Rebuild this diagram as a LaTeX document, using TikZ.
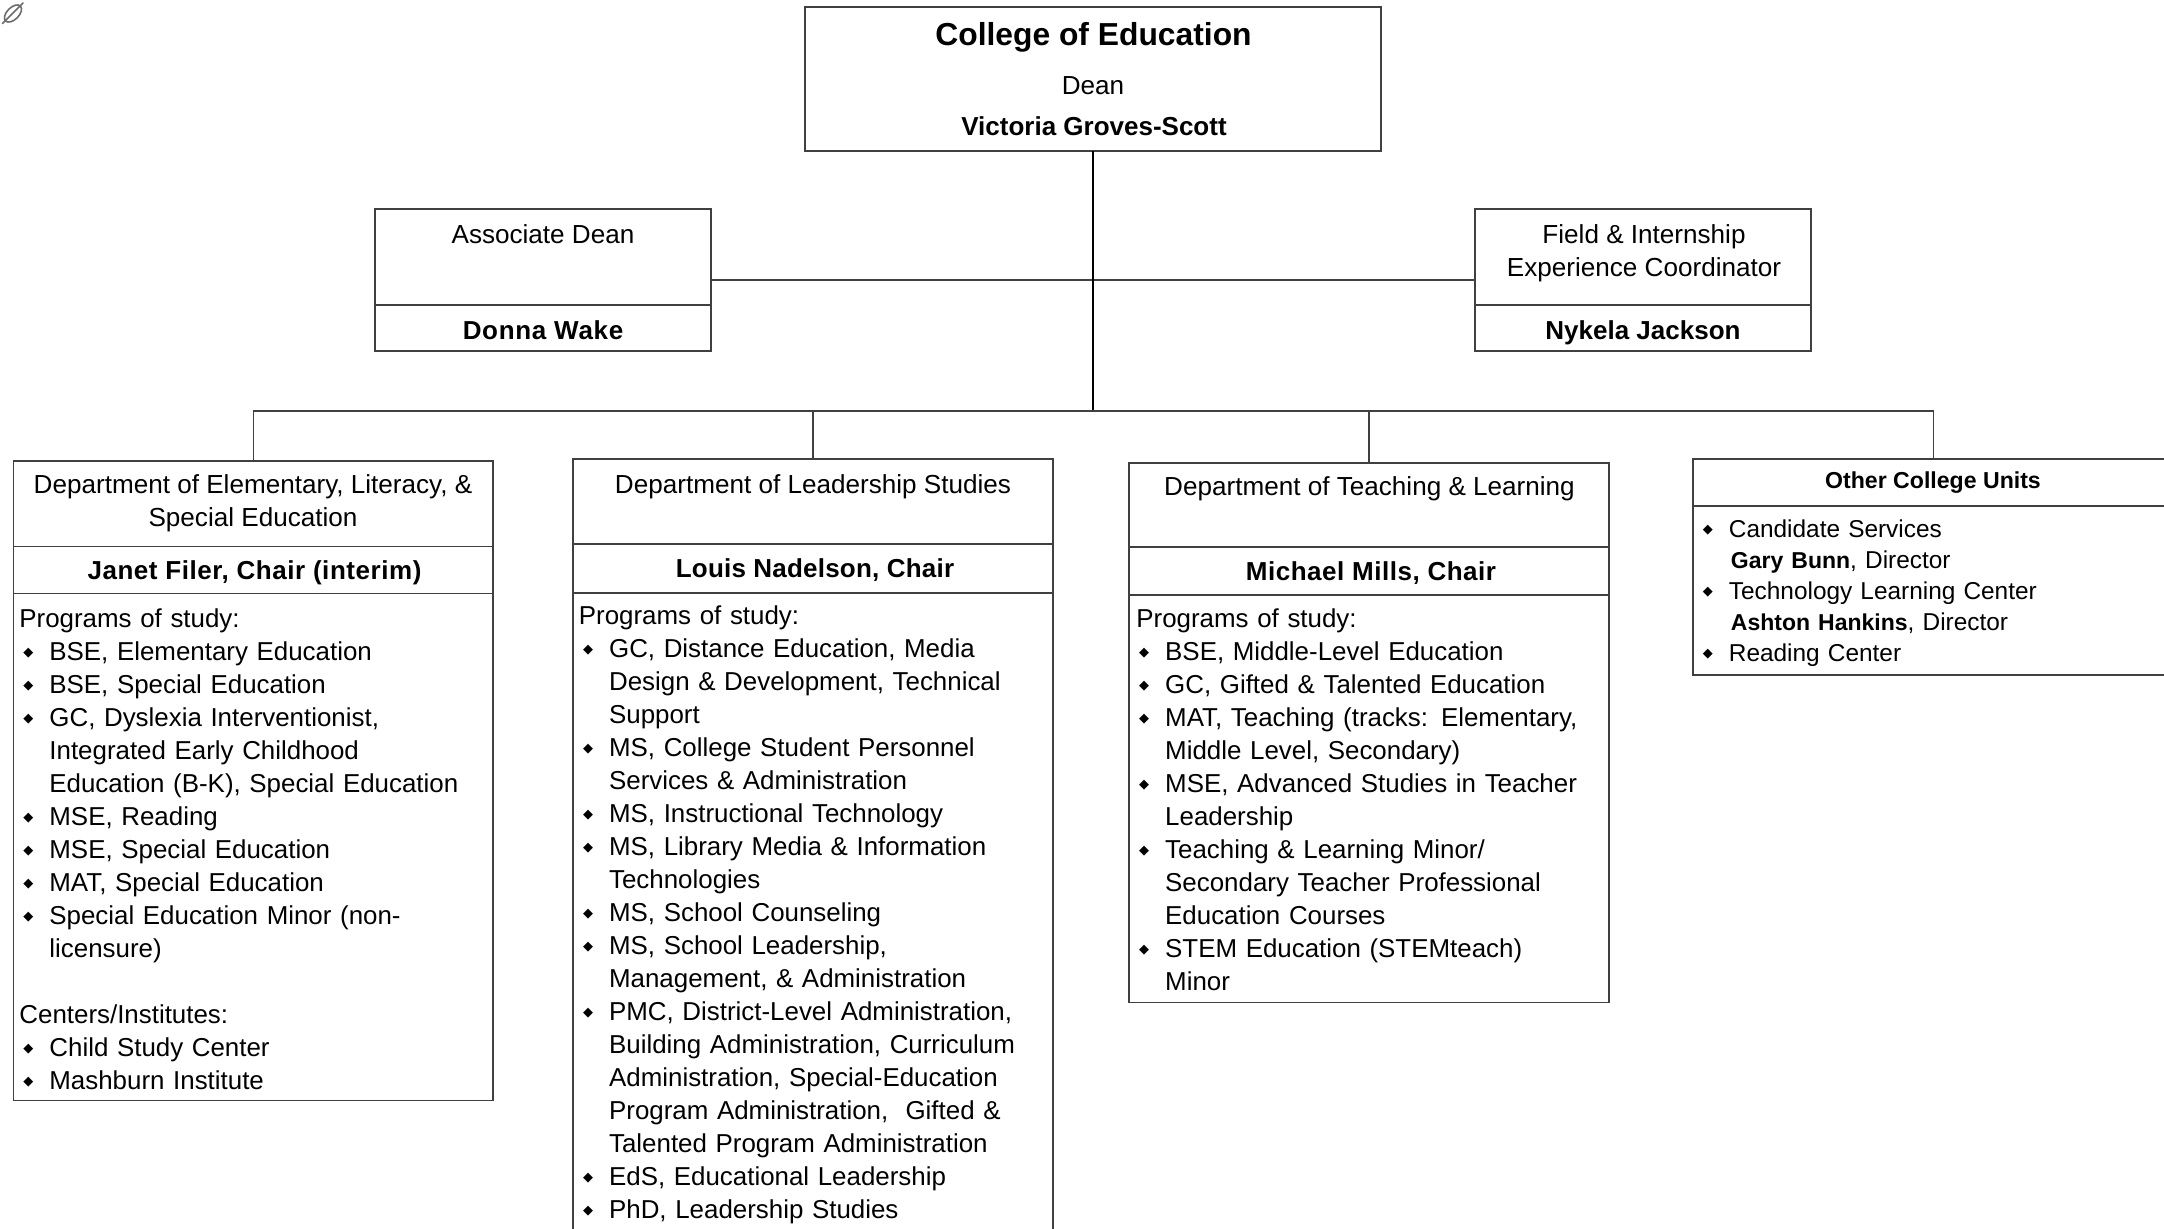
\documentclass[tikz,border=0pt]{standalone}
\usepackage{fontspec}
\setmainfont{Liberation Sans}
\newfontfamily\symfont{DejaVu Sans}
\newcommand{\bl}{\leavevmode\llap{{\fontsize{6.5pt}{6.5pt}\symfont\raisebox{1.9pt}{◆}}\hspace{8pt}}}
\newlength{\listind}
\newcommand{\startlist}[1]{\setlength{\listind}{#1}\leftskip=\listind}
\newcommand{\pl}{\hspace*{-\listind}}
\newcommand{\ls}[1]{\addfontfeature{LetterSpace=#1}}
\tikzset{
  x=0.5pt,y=-0.5pt,
  cellbox/.style={draw=linegray,line width=0.65pt,rectangle,inner sep=0pt,outer sep=0pt,anchor=north west},
  conn/.style={draw=linegray,line width=0.65pt},
  trunk/.style={draw=black,line width=1.05pt},
  centertext/.style={inner sep=0pt,align=center,font=\fontsize{13.05pt}{16.5pt}\selectfont},
  nametext/.style={inner sep=0pt,align=center,font=\fontsize{13pt}{16.5pt}\selectfont\bfseries},
  listtext/.style={inner sep=0pt,anchor=north west,align=left,text width=225pt,font=\fontsize{12.95pt}{16.5pt}\selectfont},
}
\definecolor{linegray}{HTML}{404040}
\newcommand{\cell}[5]{\node[cellbox,minimum width={(#4-#2)*0.5pt},minimum height={(#5-#3)*0.5pt}] (#1) at (#2,#3) {};}
\begin{document}
\begin{tikzpicture}
\useasboundingbox (0,0) rectangle (2164,1228);
\clip (0,0) rectangle (2164,1228);
% link icon
\draw[gray!85!black,line width=0.8pt,rotate around={45:(13,13.5)}] (13,13.5) ellipse (10.5 and 6);
\draw[gray!85!black,line width=0.8pt,line cap=round] (2.5,23.5) -- (23,3);
% top
\cell{top}{805}{7}{1381}{151}
\node[inner sep=0pt,font=\fontsize{15.9pt}{20pt}\selectfont\bfseries] (toptitle) at (1093.5,37) {College of Education};
\node[centertext] (topdean) at (1093,86) {Dean};
\node[nametext] (topname) at (1094,126) {Victoria Groves-Scott};
% associate
\cell{assoc}{375}{209}{711}{351}
\cell{assocname}{375}{305}{711}{351}
\node[centertext] (assoctitle) at (543,234) {Associate Dean};
\node[nametext] (assocperson) at (543,330) {\ls{2.6}Donna Wake};
% field
\cell{field}{1475}{209}{1811}{351}
\cell{fieldname}{1475}{305}{1811}{351}
\node[centertext] (fieldtitle) at (1644,253.5) {Field \& Internship\\Experience Coordinator};
\node[nametext] (fieldperson) at (1643,333) {Nykela Jackson};
% dept 1
\cell{da}{13.5}{461}{493}{546.5}
\cell{daname}{13.5}{546.5}{493}{593.5}
\cell{dabody}{13.5}{593.5}{493}{1100.5}
\node[centertext] (datitle) at (253,503.5) {Department of Elementary, Literacy, \&\\Special Education};
\node[nametext] (daperson) at (254.5,572.5) {\ls{2.1}Janet Filer, Chair (interim)};
\node[listtext] (dalist) at (19,608) {\startlist{15pt}\pl Programs of study:\\
\bl BSE, Elementary Education\\
\bl BSE, Special Education\\
\bl GC, Dyslexia Interventionist,\\
Integrated Early Childhood\\
Education (B-K), Special Education\\
\bl MSE, Reading\\
\bl MSE, Special Education\\
\bl MAT, Special Education\\
\bl Special Education Minor (non-\\
licensure)\\
\mbox{}\\
\pl Centers/Institutes:\\
\bl Child Study Center\\
\bl Mashburn Institute\par};
% dept 2
\cell{db}{573}{459}{1053}{544}
\cell{dbname}{573}{544}{1053}{593}
\cell{dbbody}{573}{593}{1053}{1300}
\node[centertext] (dbtitle) at (813,486.5) {Department of Leadership Studies};
\node[nametext] (dbperson) at (815,570.5) {\ls{0.8}Louis Nadelson, Chair};
\node[listtext] (dblist) at (578.5,605.5) {\startlist{15.1pt}\pl Programs of study:\\
\bl GC, Distance Education, Media\\
Design \& Development, Technical\\
Support\\
\bl MS, College Student Personnel\\
Services \& Administration\\
\bl MS, Instructional Technology\\
\bl MS, Library Media \& Information\\
Technologies\\
\bl MS, School Counseling\\
\bl MS, School Leadership,\\
Management, \& Administration\\
\bl PMC, District-Level Administration,\\
Building Administration, Curriculum\\
Administration, Special-Education\\
Program Administration,\ \ Gifted \&\\
Talented Program Administration\\
\bl EdS, Educational Leadership\\
\bl PhD, Leadership Studies\par};
% dept 3
\cell{dc}{1129}{463}{1609}{547}
\cell{dcname}{1129}{547}{1609}{595}
\cell{dcbody}{1129}{595}{1609}{1002.5}
\node[centertext] (dctitle) at (1369.5,488.5) {Department of Teaching \& Learning};
\node[nametext] (dcperson) at (1371,573.5) {\ls{2}Michael Mills, Chair};
\node[listtext] (dclist) at (1136,608) {\startlist{14.4pt}\pl Programs of study:\\
\bl BSE, Middle-Level Education\\
\bl GC, Gifted \& Talented Education\\
\bl MAT, Teaching (tracks: Elementary,\\
Middle Level, Secondary)\\
\bl MSE, Advanced Studies in Teacher\\
Leadership\\
\bl Teaching \& Learning Minor/\\
Secondary Teacher Professional\\
Education Courses\\
\bl STEM Education (STEMteach)\\
Minor\par};
% other
\cell{oc}{1693}{459}{2174}{506}
\cell{ocbody}{1693}{506}{2174}{675}
\node[inner sep=0pt,font=\fontsize{11.55pt}{15pt}\selectfont\bfseries] (octitle) at (1933,483) {Other College Units};
\node[listtext,font=\fontsize{12.2pt}{15.5pt}\selectfont] (oclist) at (1728.5,519) {\bl Candidate Services\par
\hspace*{1pt}{\fontsize{11.5pt}{15.5pt}\selectfont\textbf{Gary Bunn}}, Director\par
\bl Technology Learning Center\par
\hspace*{1pt}{\fontsize{11.5pt}{15.5pt}\selectfont\textbf{Ashton Hankins}}, Director\par
\bl Reading Center\par};
% connectors
\coordinate (busmid) at (1093,411);
\draw[conn] (assoc.east) -- (field.west);
\draw[trunk] (top.south) -- (busmid);
\draw[conn] (da.north) |- (busmid);
\draw[conn] (db.north) |- (busmid);
\draw[conn] (dc.north) |- (busmid);
\draw[conn] (oc.north) |- (busmid);
\end{tikzpicture}
\end{document}
